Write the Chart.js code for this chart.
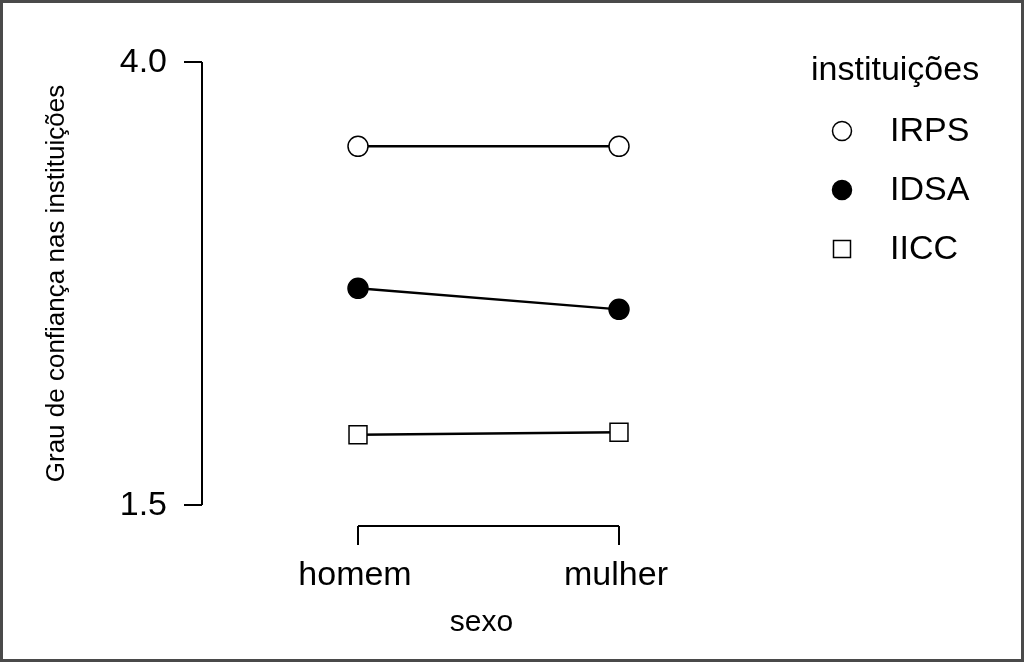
<!DOCTYPE html>
<html>
<head>
<meta charset="utf-8">
<script src="https://cdn.jsdelivr.net/npm/chart.js"></script>
<style>
  html, body { margin: 0; padding: 0; background: #fff; }
  canvas { display: block; }
</style>
</head>
<body>
<canvas id="chart" width="1024" height="662"></canvas>
<script>
// data
const sexo = ['homem', 'mulher'];
const irps = [3.524, 3.524];
const idsa = [2.723, 2.604];
const iicc = [1.897, 1.910];
const yTicks = [1.5, 4.0];

const FONT = '"Liberation Sans", Arial, sans-serif';

// offset axes drawn by hand, R style
const axesPlugin = {
  id: 'rAxes',
  beforeDraw(chart) {
    const ctx = chart.ctx;
    ctx.save();
    ctx.fillStyle = '#fff';
    ctx.fillRect(0, 0, chart.width, chart.height);
    ctx.restore();
  },
  afterDraw(chart) {
    const ctx = chart.ctx;
    const area = chart.chartArea;
    const x = chart.scales.x;
    const y = chart.scales.y;
    ctx.save();
    ctx.strokeStyle = '#000';
    ctx.fillStyle = '#000';
    ctx.lineWidth = 2;

    // y axis
    const ax = area.left - 156;
    const yTop = y.getPixelForValue(yTicks[yTicks.length - 1]);
    const yBot = y.getPixelForValue(yTicks[0]);
    ctx.beginPath();
    ctx.moveTo(ax, yTop);
    ctx.lineTo(ax, yBot);
    yTicks.forEach(t => {
      const py = y.getPixelForValue(t);
      ctx.moveTo(ax, py);
      ctx.lineTo(ax - 18, py);
    });
    ctx.stroke();
    ctx.font = '34px ' + FONT;
    ctx.textAlign = 'right';
    ctx.textBaseline = 'middle';
    yTicks.forEach(t => {
      ctx.fillText(t.toFixed(1), ax - 35, y.getPixelForValue(t) + 1);
    });

    // x axis
    const ay = area.bottom + 21;
    const x0 = x.getPixelForValue(0);
    const x1 = x.getPixelForValue(sexo.length - 1);
    ctx.beginPath();
    ctx.moveTo(x0, ay);
    ctx.lineTo(x1, ay);
    sexo.forEach((s, i) => {
      const px = x.getPixelForValue(i);
      ctx.moveTo(px, ay);
      ctx.lineTo(px, ay + 19);
    });
    ctx.stroke();
    ctx.textAlign = 'center';
    ctx.textBaseline = 'alphabetic';
    sexo.forEach((s, i) => {
      ctx.fillText(s, x.getPixelForValue(i) - 3, ay + 59);
    });

    // axis titles
    ctx.font = '30px ' + FONT;
    ctx.fillText('sexo', (x0 + x1) / 2 - 7, ay + 105);
    ctx.save();
    ctx.translate(57, (yTop + yBot) / 2);
    ctx.rotate(-Math.PI / 2);
    ctx.font = '26px ' + FONT;
    ctx.textBaseline = 'middle';
    ctx.fillText('Grau de confiança nas instituições', 0, 0);
    ctx.restore();

    // legend
    ctx.font = '34px ' + FONT;
    ctx.textAlign = 'left';
    ctx.textBaseline = 'middle';
    ctx.fillText('instituições', 811, 71);
    chart.data.datasets.forEach((ds, i) => {
      const ly = 131 + i * 59;
      const lx = 842;
      ctx.lineWidth = 1.5;
      ctx.strokeStyle = '#000';
      ctx.fillStyle = ds.pointBackgroundColor;
      ctx.beginPath();
      if (ds.pointStyle === 'rect') {
        ctx.rect(lx - 8.5, ly - 8.5, 17, 17);
      } else {
        ctx.arc(lx, ly, 9.5, 0, Math.PI * 2);
      }
      ctx.fill();
      ctx.stroke();
      ctx.fillStyle = '#000';
      ctx.fillText(ds.label, 890, ly + 1);
    });

    // frame
    ctx.strokeStyle = '#4a4a4a';
    ctx.lineWidth = 3;
    ctx.strokeRect(1.5, 1.5, chart.width - 3, chart.height - 3);
    ctx.restore();
  }
};

new Chart(document.getElementById('chart'), {
  type: 'line',
  data: {
    labels: sexo,
    datasets: [
      {
        label: 'IRPS',
        data: irps,
        borderColor: '#000',
        borderWidth: 2.5,
        pointStyle: 'circle',
        pointRadius: 10,
        pointBorderWidth: 1.5,
        pointBorderColor: '#000',
        pointBackgroundColor: '#fff'
      },
      {
        label: 'IDSA',
        data: idsa,
        borderColor: '#000',
        borderWidth: 2.5,
        pointStyle: 'circle',
        pointRadius: 10,
        pointBorderWidth: 1.5,
        pointBorderColor: '#000',
        pointBackgroundColor: '#000'
      },
      {
        label: 'IICC',
        data: iicc,
        borderColor: '#000',
        borderWidth: 2.5,
        pointStyle: 'rect',
        pointRadius: 12.7,
        pointBorderWidth: 1.5,
        pointBorderColor: '#000',
        pointBackgroundColor: '#fff'
      }
    ]
  },
  options: {
    responsive: false,
    animation: false,
    devicePixelRatio: 1,
    clip: false,
    layout: { padding: { left: 358, right: 405, top: 62, bottom: 157 } },
    plugins: { legend: { display: false }, tooltip: { enabled: false } },
    scales: {
      x: { type: 'category', offset: false, display: false },
      y: { min: 1.5, max: 4.0, display: false }
    }
  },
  plugins: [axesPlugin]
});
</script>
</body>
</html>
